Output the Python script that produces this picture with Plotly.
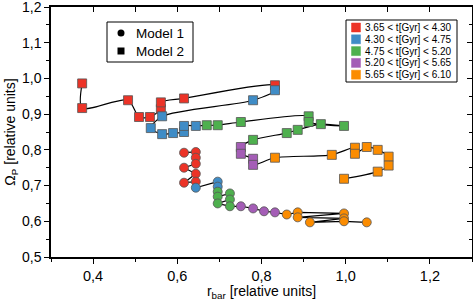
import plotly.graph_objects as go

# ---------------- data ----------------
# Model 1 (circles), path in time order, with colour group of each point
m1_x = [0.616, 0.644, 0.644, 0.644, 0.616, 0.644, 0.616, 0.644,
        0.644, 0.696, 0.696,
        0.696, 0.696, 0.725, 0.725, 0.696, 0.725,
        0.751, 0.780, 0.806, 0.832,
        0.860, 0.886, 0.996, 0.886, 0.996, 0.915, 0.996, 1.050]
m1_y = [0.792, 0.794, 0.778, 0.761, 0.750, 0.733, 0.708, 0.711,
        0.694, 0.711, 0.697,
        0.683, 0.669, 0.678, 0.661, 0.650, 0.642,
        0.642, 0.636, 0.628, 0.625,
        0.619, 0.625, 0.622, 0.611, 0.608, 0.597, 0.600, 0.597]
m1_g = [0]*8 + [1]*3 + [2]*6 + [3]*4 + [4]*8

# Model 2 (squares)
m2_x = [0.374, 0.374, 0.483, 0.509, 0.535, 0.561, 0.561, 0.616, 0.832,
        0.832, 0.780, 0.564, 0.537, 0.564, 0.590, 0.616, 0.616, 0.644,
        0.670, 0.696, 0.751, 0.912, 0.912, 0.996, 0.941, 0.886, 0.860, 0.780,
        0.751, 0.751, 0.780, 0.780,
        0.832, 0.967, 1.022, 1.022, 1.050, 1.076, 1.102, 1.102, 1.076, 0.996]
m2_y = [0.986, 0.917, 0.939, 0.892, 0.892, 0.914, 0.933, 0.944, 0.981,
        0.967, 0.939, 0.894, 0.861, 0.844, 0.847, 0.850, 0.867, 0.867,
        0.869, 0.869, 0.878, 0.894, 0.878, 0.867, 0.872, 0.856, 0.847, 0.828,
        0.808, 0.789, 0.775, 0.758,
        0.778, 0.786, 0.806, 0.789, 0.808, 0.800, 0.781, 0.756, 0.739, 0.719]
m2_g = [0]*9 + [1]*9 + [2]*10 + [3]*4 + [4]*10

group_labels = ["3.65 < t[Gyr] < 4.30", "4.30 < t[Gyr] < 4.75",
                "4.75 < t[Gyr] < 5.20", "5.20 < t[Gyr] < 5.65",
                "5.65 < t[Gyr] < 6.10"]
group_colors = ["#ec3327", "#3f8cc6", "#4eb04e", "#a45db6", "#fb8c00"]
model_labels = ["Model 1", "Model 2"]

# ---------------- figure ----------------
fig = go.Figure()
edge = dict(color="#555555", width=0.8)

# connecting lines
fig.add_trace(go.Scatter(x=m1_x, y=m1_y, mode="lines",
                         line=dict(color="black", width=1.2),
                         showlegend=False, hoverinfo="skip"))
fig.add_trace(go.Scatter(x=m2_x, y=m2_y, mode="lines",
                         line=dict(color="black", width=1.2, shape="spline",
                                   smoothing=0.8),
                         showlegend=False, hoverinfo="skip"))

# markers by colour group
for xs, ys, gs, sym in [(m1_x, m1_y, m1_g, "circle"),
                        (m2_x, m2_y, m2_g, "square")]:
    for g, col in enumerate(group_colors):
        px = [x for x, gg in zip(xs, gs) if gg == g]
        py = [y for y, gg in zip(ys, gs) if gg == g]
        fig.add_trace(go.Scatter(x=px, y=py, mode="markers",
                                 marker=dict(symbol=sym, size=9, color=col,
                                             line=edge),
                                 showlegend=False, hoverinfo="skip"))

# dummy trace for inner mirror axes
fig.add_trace(go.Scatter(x=[None], y=[None], xaxis="x2", yaxis="y2",
                         mode="markers", showlegend=False, hoverinfo="skip"))

# ---------------- hand-built legends (paper coordinates) ----------------
L, R, T, B = 51, 472, 7, 257          # plot area in pixels
def PX(p):
    return (p - L) / (R - L)
def PY(p):
    return (B - p) / (B - T)

shapes, annots = [], []
# legend 1: models
shapes.append(dict(type="rect", xref="paper", yref="paper",
                   x0=PX(107), x1=PX(193), y0=PY(62), y1=PY(22),
                   line=dict(color="black", width=1), fillcolor="white"))
for i, (lab, kind) in enumerate(zip(model_labels, ["circle", "rect"])):
    cy = 33 + 18 * i
    shapes.append(dict(type=kind, xref="paper", yref="paper",
                       x0=PX(117.5), x1=PX(124.5), y0=PY(cy + 3.5), y1=PY(cy - 3.5),
                       line=dict(width=0), fillcolor="black"))
    annots.append(dict(text=lab, xref="paper", yref="paper", x=PX(134),
                       y=PY(cy), xanchor="left", yanchor="middle",
                       showarrow=False, font=dict(size=13.5)))
# legend 2: time ranges
shapes.append(dict(type="rect", xref="paper", yref="paper",
                   x0=PX(346), x1=PX(457), y0=PY(82), y1=PY(20),
                   line=dict(color="black", width=1), fillcolor="white"))
for i, (lab, col) in enumerate(zip(group_labels, group_colors)):
    cy = 27.5 + 11.8 * i
    shapes.append(dict(type="rect", xref="paper", yref="paper",
                       x0=PX(351.5), x1=PX(360.5), y0=PY(cy + 4.5), y1=PY(cy - 4.5),
                       line=dict(color=col, width=0.5), fillcolor=col))
    annots.append(dict(text=lab, xref="paper", yref="paper", x=PX(362.5),
                       y=PY(cy), xanchor="left", yanchor="middle",
                       showarrow=False, font=dict(size=10)))

font = "Liberation Sans, Arial, sans-serif"
fig.update_layout(
    width=473, height=301,
    margin=dict(l=L, r=473 - R, t=T, b=301 - B, autoexpand=False),
    paper_bgcolor="white", plot_bgcolor="white",
    separators=", ",
    showlegend=False,
    font=dict(family=font, size=13, color="black"),
    shapes=shapes, annotations=annots,
    xaxis=dict(range=[0.3, 1.3], dtick=0.2, tick0=0.4, tickformat=".1f",
               ticks="outside", ticklen=5, tickwidth=1.2, tickcolor="black",
               tickfont=dict(size=14.5), ticklabeloverflow="allow",
               minor=dict(dtick=0.1, ticks="outside", ticklen=3,
                          tickcolor="black", tickwidth=1.2),
               showline=True, linecolor="black", linewidth=1.5,
               showgrid=False, zeroline=False, automargin=False,
               title=dict(text="r<sub>bar</sub> [relative units]",
                          font=dict(size=14), standoff=5)),
    yaxis=dict(range=[0.49999, 1.20001], dtick=0.1, tick0=0.5, tickformat=".1f",
               ticks="outside", ticklen=5, tickwidth=1.2, tickcolor="black",
               tickfont=dict(size=14), ticklabeloverflow="allow",
               minor=dict(dtick=0.05, ticks="outside", ticklen=3,
                          tickcolor="black", tickwidth=1.2),
               showline=True, linecolor="black", linewidth=1.5,
               showgrid=False, zeroline=False, automargin=False,
               title=dict(text="Ω<sub>P</sub> [relative units]",
                          font=dict(size=14), standoff=3)),
    xaxis2=dict(overlaying="x", side="top", matches="x", range=[0.3, 1.3],
                dtick=0.1, ticks="inside", ticklen=5, tickwidth=1.2,
                tickcolor="black", showticklabels=False, automargin=False,
                showline=True, linecolor="black", linewidth=1.5,
                showgrid=False, zeroline=False),
    yaxis2=dict(overlaying="y", side="right", matches="y",
                range=[0.49999, 1.20001],
                dtick=0.1, ticks="inside", ticklen=5, tickwidth=1.2,
                tickcolor="black", showticklabels=False, automargin=False,
                minor=dict(dtick=0.05, ticks="inside", ticklen=3,
                           tickcolor="black", tickwidth=1.2),
                showline=True, linecolor="black", linewidth=1.5,
                showgrid=False, zeroline=False),
)

fig.write_html("out.html", config={"displayModeBar": False},
               post_script="document.body.style.margin='0';"
                           "document.body.style.overflow='hidden';")
